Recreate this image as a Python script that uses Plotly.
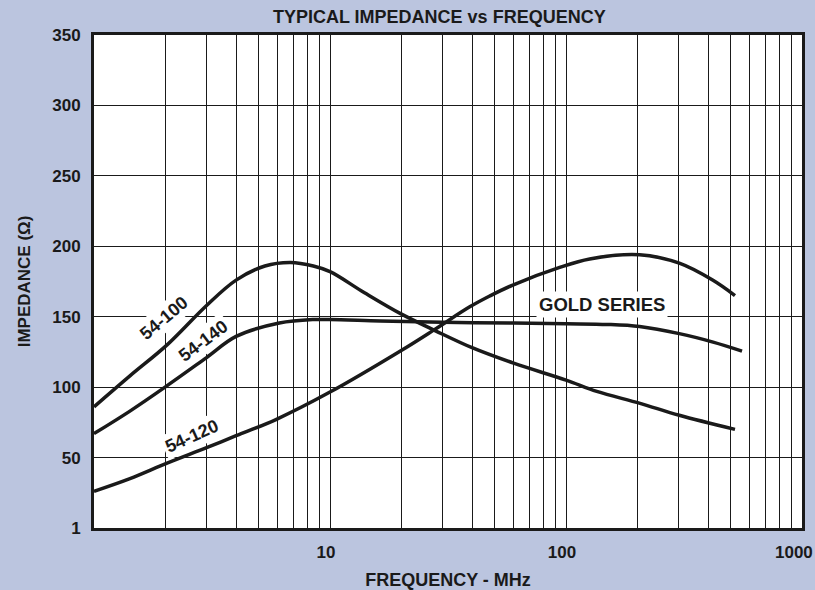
import plotly.graph_objects as go

# Frequency (MHz) and impedance (ohm)
freq_54_100 = [1.0, 1.42, 2.04, 3.0, 4.0, 5.3, 6.8, 8.5, 10, 14, 20, 28, 40, 60, 100, 135, 206, 302, 520]
imp_54_100 = [86, 108, 130, 158, 176, 186, 188.5, 186, 182, 167, 152, 140, 128, 117, 105, 97, 88.5, 80, 70]

freq_54_140 = [1.0, 1.42, 2.0, 3.0, 4.0, 6.1, 8.5, 10, 16.3, 30, 60, 100, 150, 205, 302, 420, 557]
imp_54_140 = [67, 83, 100, 121, 136, 145.5, 148, 148, 147, 146, 145.5, 145, 144.5, 143, 138, 132, 125.6]

freq_gold = [1.0, 1.42, 2.04, 3.0, 4.0, 5.9, 10, 20.2, 27.8, 39.1, 47.5, 59.5, 94, 126, 205, 302, 418, 520]
imp_gold = [26, 35, 46, 57, 65.5, 77, 96.5, 126.4, 141, 157, 164.7, 172.5, 185, 191, 194, 188, 176, 165]

x_tick_vals = [1, 2, 3, 4, 5, 6, 7, 8, 9, 10, 20, 30, 40, 50, 60, 70, 80, 90,
               100, 200, 300, 400, 500, 600, 700, 800, 900, 1000]
x_labeled = [10, 100]
x_tick_text = [str(v) if v in x_labeled else "" for v in x_tick_vals]
x_edge_label = "1000"
y_tick_vals = [0, 50, 100, 150, 200, 250, 300, 350]
y_tick_text = ["1", "50", "100", "150", "200", "250", "300", "350"]

FONT = "Liberation Sans, Arial, Helvetica, sans-serif"
BG = "#bbc5df"
INK = "#1a1a1a"

fig = go.Figure()
for fx, fy, name in [(freq_54_100, imp_54_100, "54-100"),
                     (freq_54_140, imp_54_140, "54-140"),
                     (freq_gold, imp_gold, "54-120 / GOLD SERIES")]:
    fig.add_trace(go.Scatter(x=fx, y=fy, mode="lines", name=name,
                             line=dict(color=INK, width=3.5, shape="spline", smoothing=1.0),
                             showlegend=False, hoverinfo="skip"))

labels = [
    ("<b>54-100</b>", 0.297, 149, -40, 18),
    ("<b>54-140</b>", 0.462, 133, -37, 18),
    ("<b>54-120</b>", 0.416, 65, -24, 18),
    ("<b>GOLD SERIES</b>", 2.153, 158.5, 0, 18.5),
]
for text, lx, ly, ang, fs in labels:
    fig.add_annotation(x=lx, y=ly, xref="x", yref="y", text=text, showarrow=False,
                       textangle=ang, bgcolor="white", borderpad=2,
                       font=dict(family=FONT, size=fs, color=INK))

# last x tick label, kept inside the figure edge as in the reference
fig.add_annotation(x=1.0183, y=-0.0487, xref="paper", yref="paper", xanchor="right",
                   yanchor="middle", text="<b>" + x_edge_label + "</b>", showarrow=False,
                   font=dict(family=FONT, size=17, color=INK))

fig.update_layout(
    width=815, height=590,
    paper_bgcolor=BG, plot_bgcolor="white",
    margin=dict(l=94, r=13, t=35, b=62, autoexpand=False),
    title=dict(text="<b>TYPICAL IMPEDANCE vs FREQUENCY</b>", x=0.539, xanchor="center",
               xref="container", y=0.971, yanchor="middle", automargin=False,
               font=dict(family=FONT, size=18, color=INK)),
    font=dict(family=FONT, color=INK),
)
fig.update_xaxes(type="log", range=[0, 3], tickmode="array", tickvals=x_tick_vals,
                 ticktext=x_tick_text, showgrid=True, gridcolor=INK, gridwidth=1,
                 showline=True, linecolor=INK, linewidth=3, mirror=True,
                 ticks="", ticklabelstandoff=7, ticklabelshift=-4, zeroline=False,
                 automargin=False,
                 tickfont=dict(family=FONT, size=17, color=INK, weight="bold"),
                 title=dict(text="<b>FREQUENCY - MHz</b>", standoff=15,
                            font=dict(family=FONT, size=18, color=INK)))
fig.update_yaxes(range=[0, 350], tickmode="array", tickvals=y_tick_vals, ticktext=y_tick_text,
                 showgrid=True, gridcolor=INK, gridwidth=1,
                 showline=True, linecolor=INK, linewidth=3, mirror=True,
                 ticks="", ticklabelstandoff=7, zeroline=False, automargin=False,
                 tickfont=dict(family=FONT, size=17, color=INK, weight="bold"),
                 title=dict(text="<b>IMPEDANCE (Ω)</b>", standoff=18,
                            font=dict(family=FONT, size=17, color=INK)))

fig.write_html("out.html", config={"displayModeBar": False},
               post_script="document.body.style.margin='0';document.body.style.overflow='hidden';")
